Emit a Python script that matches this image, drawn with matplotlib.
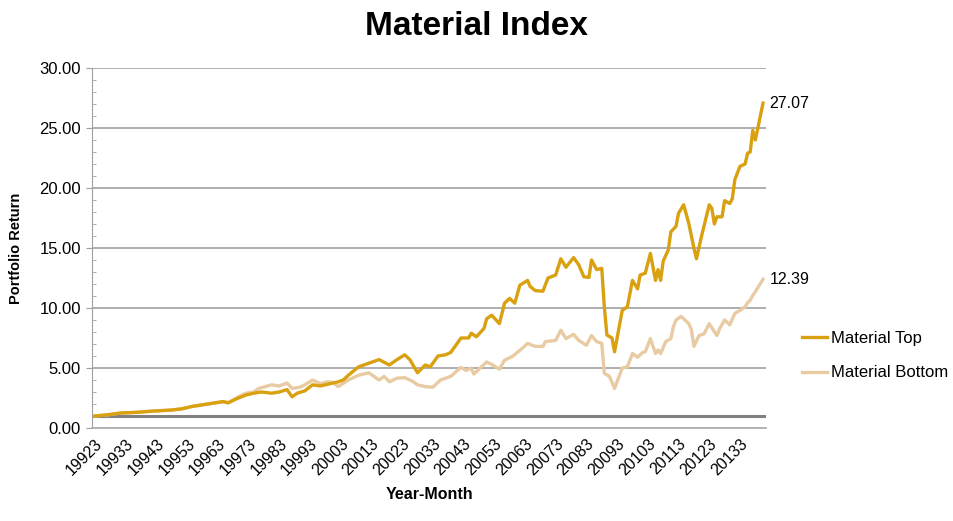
import matplotlib
matplotlib.use("Agg")
import matplotlib.pyplot as plt
from matplotlib.ticker import MultipleLocator

# month offsets from 1992-03 and portfolio return
top_month = [0, 5, 10, 16, 22, 30, 34, 38, 44, 50, 52, 56, 59, 62, 65, 69, 72, 75, 77, 79,
             82, 85, 88, 91, 95, 97, 99, 103, 107, 111, 115, 118, 121, 123, 126, 129, 131,
             134, 137, 139, 143, 146, 147, 149, 152, 153, 155, 158, 160, 162, 164, 166,
             169, 170, 172, 175, 177, 180, 182, 184, 187, 189, 191, 193, 194, 196, 198,
             199, 200, 202, 203, 206, 208, 210, 212, 213, 215, 217, 219, 220, 221, 222,
             224, 225, 227, 228, 230, 232, 234, 235, 237, 240, 241, 242, 243, 245, 246,
             248, 249, 250, 252, 254, 255, 256, 257, 258, 259, 261]
top_value = [1.0, 1.1, 1.25, 1.3, 1.4, 1.5, 1.6, 1.8, 2.0, 2.2, 2.1, 2.5, 2.75, 2.9, 3.0,
             2.9, 3.0, 3.2, 2.6, 2.9, 3.1, 3.6, 3.5, 3.65, 3.85, 4.0, 4.4, 5.1, 5.4, 5.7,
             5.25, 5.7, 6.1, 5.7, 4.6, 5.25, 5.1, 6.0, 6.1, 6.3, 7.5, 7.5, 7.9, 7.6, 8.3,
             9.1, 9.4, 8.7, 10.4, 10.8, 10.4, 11.9, 12.3, 11.8, 11.45, 11.4, 12.5, 12.75,
             14.1, 13.4, 14.2, 13.6, 12.6, 12.55, 14.0, 13.2, 13.3, 10.1, 7.75, 7.5, 6.35,
             9.8, 10.1, 12.3, 11.6, 12.75, 12.9, 14.55, 12.3, 13.2, 12.3, 13.9, 14.85,
             16.35, 16.8, 17.9, 18.6, 17.05, 15.0, 14.1, 16.0, 18.6, 18.3, 17.0, 17.6,
             17.6, 18.95, 18.7, 19.1, 20.7, 21.8, 22.0, 22.9, 23.0, 24.8, 24.0, 25.0, 27.07]

bottom_month = [0, 5, 10, 16, 22, 30, 34, 38, 44, 50, 52, 56, 59, 62, 64, 69, 72, 75, 77,
                80, 82, 85, 88, 91, 93, 95, 99, 103, 107, 109, 111, 113, 115, 118, 121, 124,
                126, 129, 132, 135, 139, 143, 145, 147, 148, 153, 155, 158, 160, 163, 167,
                169, 172, 175, 176, 180, 182, 184, 187, 189, 192, 194, 196, 198, 199, 201,
                203, 206, 208, 210, 212, 214, 215, 217, 219, 220, 221, 223, 225, 226, 227,
                229, 232, 233, 234, 236, 238, 240, 241, 243, 244, 246, 248, 250, 252, 254,
                255, 256, 257, 258, 261]
bottom_value = [1.0, 1.1, 1.25, 1.3, 1.4, 1.5, 1.6, 1.8, 2.0, 2.2, 2.1, 2.6, 2.9, 3.0, 3.3,
                3.6, 3.5, 3.75, 3.3, 3.4, 3.6, 4.0, 3.7, 3.85, 3.8, 3.45, 4.0, 4.4, 4.6, 4.3,
                4.0, 4.3, 3.85, 4.15, 4.2, 3.9, 3.6, 3.45, 3.4, 4.0, 4.3, 5.05, 4.8, 5.0,
                4.5, 5.5, 5.3, 4.9, 5.65, 5.95, 6.65, 7.05, 6.8, 6.8, 7.2, 7.3, 8.15, 7.45,
                7.8, 7.3, 6.9, 7.7, 7.2, 7.05, 4.55, 4.3, 3.3, 5.0, 5.1, 6.2, 5.9, 6.3, 6.35,
                7.45, 6.2, 6.5, 6.2, 7.2, 7.45, 8.45, 9.0, 9.3, 8.7, 8.2, 6.8, 7.7, 7.85,
                8.7, 8.35, 7.7, 8.25, 9.0, 8.6, 9.55, 9.8, 10.1, 10.45, 10.65, 11.05, 11.35,
                12.39]

tick_month = list(range(0, 253, 12))
tick_labels = [f"{1992 + i}3" for i in range(len(tick_month))]

top_color = "#D9A010"
bottom_color = "#E8CBA2"
plt.rcParams["font.family"] = ["Liberation Sans", "DejaVu Sans"]

fig = plt.figure(figsize=(9.54, 5.21), dpi=100)
ax = fig.add_axes([0.0964, 0.1785, 0.7066, 0.691])

ax.axhline(1.0, color="#808080", lw=2.2, zorder=1)
ax.plot(bottom_month, bottom_value, color=bottom_color, lw=2.4, label="Material Bottom", zorder=2)
ax.plot(top_month, top_value, color=top_color, lw=2.4, label="Material Top", zorder=3)

ax.set_xlim(-1.2, 262.2)
ax.set_ylim(0, 30)
ax.yaxis.set_major_locator(MultipleLocator(5))
ax.yaxis.set_minor_locator(MultipleLocator(1))
ax.yaxis.set_major_formatter(lambda v, p: f"{v:.2f}")
ax.grid(axis="y", which="major", color="#A8A8A8", lw=1.3)
ax.set_axisbelow(True)
for side in ["top", "right"]:
    ax.spines[side].set_visible(False)
ax.spines["left"].set_color("#A0A0A0")
ax.spines["bottom"].set_color("#B0B0B0")
ax.spines["bottom"].set_linewidth(1.3)
ax.tick_params(axis="y", which="major", direction="out", length=4, color="#A0A0A0",
               labelsize=12, pad=4)
ax.tick_params(axis="y", which="minor", direction="in", length=3, color="#A0A0A0")

ax.set_xticks(tick_month)
ax.set_xticklabels(tick_labels, rotation=45, ha="right", rotation_mode="anchor", fontsize=11.5)
ax.tick_params(axis="x", length=0, pad=6)

ax.text(263.5, top_value[-1], f"{top_value[-1]:.2f}", fontsize=11.5, va="center", ha="left")
ax.text(263.5, bottom_value[-1], f"{bottom_value[-1]:.2f}", fontsize=11.5, va="center", ha="left")

handles, labels = ax.get_legend_handles_labels()
fig.legend(handles[::-1], labels[::-1], loc="center left", bbox_to_anchor=(0.841, 0.317),
           frameon=False, fontsize=12, handlelength=1.5, handletextpad=0.2, labelspacing=1.15,
           borderpad=0, borderaxespad=0)

fig.text(0.5, 0.95, "Material Index", ha="center", va="center", fontsize=24, fontweight="bold")
ax.set_ylabel("Portfolio Return", fontsize=10.5, fontweight="bold", labelpad=12)
ax.set_xlabel("Year-Month", fontsize=11.5, fontweight="bold", labelpad=6)

fig.savefig("out.png", dpi=100)
